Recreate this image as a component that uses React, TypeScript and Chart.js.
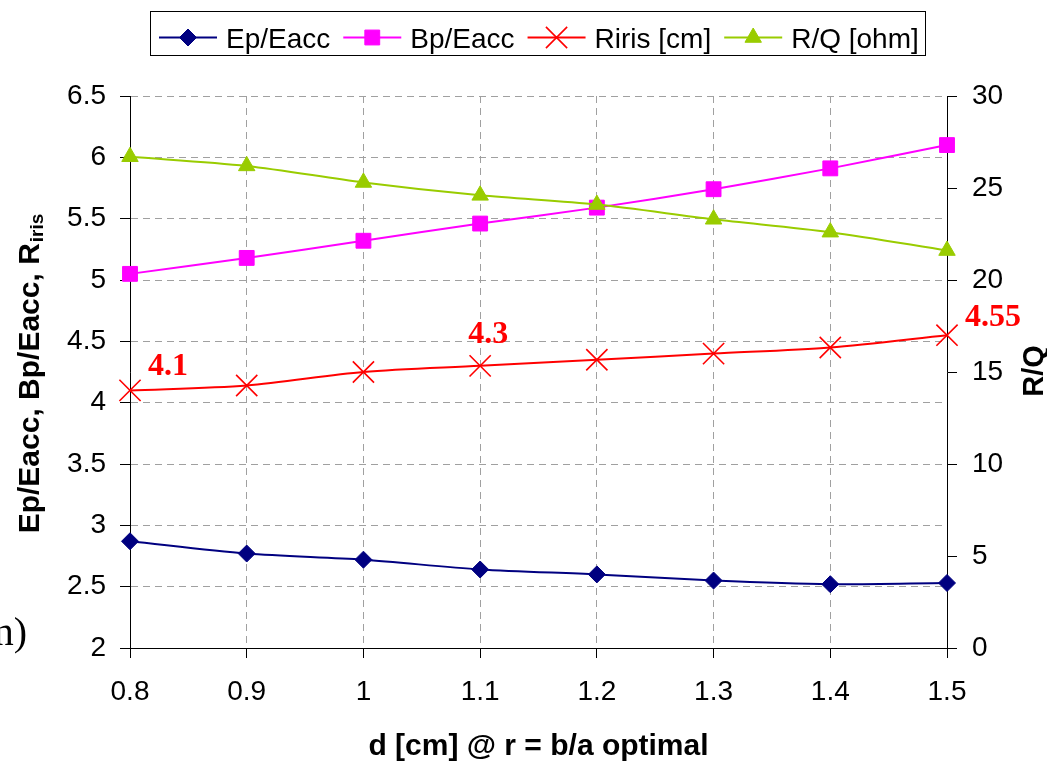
import React, { useEffect, useRef } from 'react';
import { Chart, registerables } from 'chart.js';
import { drawPoint } from 'chart.js/helpers';

Chart.register(...registerables);

// Gap d [cm] at the optimal r = b/a
const dValues = ['0.8', '0.9', '1', '1.1', '1.2', '1.3', '1.4', '1.5'];

// Left axis: peak field ratios and iris radius
const epEacc = [2.87, 2.77, 2.72, 2.64, 2.6, 2.55, 2.52, 2.53];
const bpEacc = [5.05, 5.18, 5.32, 5.46, 5.59, 5.74, 5.91, 6.1];
const rIris = [4.1, 4.14, 4.25, 4.3, 4.35, 4.4, 4.45, 4.55];

// Right axis: R/Q in ohm
const rOverQ = [26.7, 26.2, 25.3, 24.6, 24.1, 23.3, 22.6, 21.6];

// Axis ranges: [min, max, step]
const leftRange = [2, 6.5, 0.5];
const rightRange = [0, 30, 5];

// Iris radius points that carry a value callout
const calloutIndex = [0, 3, 7];
const calloutOffset = [
  [38, -24],
  [8, -31],
  [46, -17],
];

const SANS = '"Liberation Sans", Arial, sans-serif';
const SERIF = '"Liberation Serif", "Times New Roman", serif';

const series = [
  { label: 'Ep/Eacc', data: epEacc, color: '#000080', pointStyle: 'rectRot', radius: 8.5, borderWidth: 1, axis: 'yLeft', order: 4 },
  { label: 'Bp/Eacc', data: bpEacc, color: '#FF00FF', pointStyle: 'rect', radius: 10.5, borderWidth: 1, axis: 'yLeft', order: 3 },
  { label: 'Riris [cm]', data: rIris, color: '#FF0000', pointStyle: 'crossRot', radius: 15, borderWidth: 1.6, axis: 'yLeft', order: 2 },
  { label: 'R/Q [ohm]', data: rOverQ, color: '#99CC00', pointStyle: 'triangle', radius: 9.5, borderWidth: 1, axis: 'yRight', order: 1 },
];

const overlay = {
  id: 'overlay',
  afterDraw(chart: any) {
    const ctx: CanvasRenderingContext2D = chart.ctx;
    const area = chart.chartArea;
    ctx.save();

    // Legend box across the top
    ctx.strokeStyle = '#000';
    ctx.lineWidth = 1;
    ctx.strokeRect(150.5, 11.5, 775, 44);
    ctx.textAlign = 'left';
    ctx.textBaseline = 'alphabetic';
    let lx = 159;
    const ly = 37.5;
    series.forEach((s) => {
      ctx.strokeStyle = s.color;
      ctx.lineWidth = 2;
      ctx.beginPath();
      ctx.moveTo(lx, ly);
      ctx.lineTo(lx + 58, ly);
      ctx.stroke();
      ctx.fillStyle = s.color;
      ctx.lineWidth = s.borderWidth;
      drawPoint(ctx, { pointStyle: s.pointStyle as any, radius: s.radius, rotation: 0, borderWidth: s.borderWidth }, lx + 29, ly);
      ctx.fillStyle = '#000';
      ctx.font = `28px ${SANS}`;
      ctx.fillText(s.label, lx + 67, 48);
      lx += 67 + ctx.measureText(s.label).width + 13;
    });

    // Value callouts on the iris radius curve
    const meta = chart.getDatasetMeta(2);
    ctx.fillStyle = '#FF0000';
    ctx.font = `bold 32px ${SERIF}`;
    ctx.textAlign = 'center';
    ctx.textBaseline = 'middle';
    calloutIndex.forEach((idx, i) => {
      const pt = meta.data[idx];
      ctx.fillText(String(rIris[idx]), pt.x + calloutOffset[i][0], pt.y + calloutOffset[i][1]);
    });

    // Left axis title with subscript
    ctx.fillStyle = '#000';
    ctx.textAlign = 'left';
    ctx.textBaseline = 'alphabetic';
    ctx.save();
    ctx.translate(0, 374);
    ctx.rotate(-Math.PI / 2);
    const main = 'Ep/Eacc, Bp/Eacc, R';
    const sub = 'iris';
    ctx.font = `bold 30px ${SANS}`;
    const mw = ctx.measureText(main).width;
    ctx.font = `bold 19px ${SANS}`;
    const sw = ctx.measureText(sub).width;
    const start = -(mw + sw) / 2;
    ctx.font = `bold 30px ${SANS}`;
    ctx.fillText(main, start, 39);
    ctx.font = `bold 19px ${SANS}`;
    ctx.fillText(sub, start + mw + 1, 43);
    ctx.restore();

    // Right axis title
    ctx.save();
    ctx.translate(1043, 371);
    ctx.rotate(-Math.PI / 2);
    ctx.font = `bold 29px ${SANS}`;
    ctx.textAlign = 'center';
    ctx.fillText('R/Q', 0, 0);
    ctx.restore();

    // X axis title
    ctx.font = `bold 30px ${SANS}`;
    ctx.textAlign = 'center';
    ctx.fillText('d [cm] @ r = b/a optimal', (area.left + area.right) / 2, 755);

    // Fragment of surrounding text at the left edge
    ctx.font = `40px ${SERIF}`;
    ctx.textAlign = 'right';
    ctx.fillText('n)', 27, 645);

    ctx.restore();
  },
};

const plainNumber = (v: any) => String(Math.round(Number(v) * 100) / 100);

export default function App() {
  const ref = useRef<HTMLCanvasElement>(null);

  useEffect(() => {
    const gridColor = '#a0a0a0';
    const tickFont = { family: SANS, size: 28 };
    const chart = new Chart(ref.current as HTMLCanvasElement, {
      type: 'line',
      data: {
        labels: dValues,
        datasets: series.map((s) => ({
          label: s.label,
          data: s.data,
          yAxisID: s.axis,
          order: s.order,
          borderColor: s.color,
          backgroundColor: s.color,
          borderWidth: 2,
          tension: 0.3,
          pointStyle: s.pointStyle as any,
          pointRadius: s.radius,
          pointBorderWidth: s.borderWidth,
          pointBackgroundColor: s.color,
          pointBorderColor: s.color,
          clip: false as any,
        })),
      },
      options: {
        responsive: false,
        animation: false,
        devicePixelRatio: 1,
        layout: { padding: { top: 96, left: 0, right: 0, bottom: 0 } },
        plugins: { legend: { display: false }, tooltip: { enabled: false } },
        scales: {
          x: {
            type: 'category',
            offset: false,
            grid: { color: gridColor, lineWidth: 1, tickLength: 10, tickColor: '#000', tickBorderDash: [] } as any,
            border: { color: '#000', width: 1, dash: [7, 5] },
            ticks: { color: '#000', font: tickFont, padding: 17, maxRotation: 0, autoSkip: false },
            afterFit: (scale: any) => {
              scale.height = 113;
            },
          },
          yLeft: {
            type: 'linear',
            position: 'left',
            min: leftRange[0],
            max: leftRange[1],
            grid: { color: gridColor, lineWidth: 1, tickLength: 10, tickColor: '#000', tickBorderDash: [] } as any,
            border: { color: '#000', width: 1, dash: [7, 5] },
            ticks: { stepSize: leftRange[2], color: '#000', font: tickFont, padding: 14, callback: plainNumber },
            afterFit: (scale: any) => {
              scale.width = 130;
            },
          },
          yRight: {
            type: 'linear',
            position: 'right',
            min: rightRange[0],
            max: rightRange[1],
            grid: { drawOnChartArea: false, tickLength: 10, tickColor: '#000', tickBorderDash: [] } as any,
            border: { color: '#000', width: 1 },
            ticks: { stepSize: rightRange[2], color: '#000', font: tickFont, padding: 15, callback: plainNumber },
            afterFit: (scale: any) => {
              scale.width = 100;
            },
          },
        },
      },
      plugins: [overlay],
    });
    return () => chart.destroy();
  }, []);

  return (
    <div style={{ position: 'absolute', left: 0, top: 0, width: 1047, height: 761, background: '#fff' }}>
      <canvas ref={ref} width={1047} height={761} style={{ display: 'block', width: 1047, height: 761 }} />
    </div>
  );
}
